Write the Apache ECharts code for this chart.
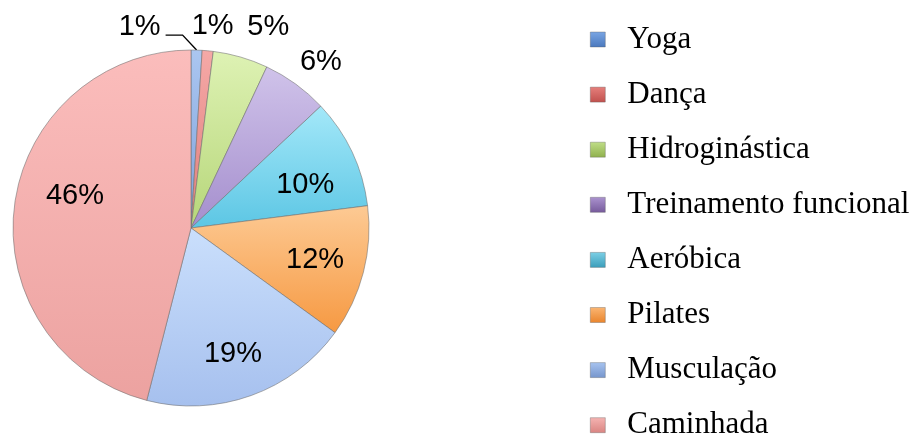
<!DOCTYPE html>
<html>
<head>
<meta charset="utf-8">
<script src="https://cdn.jsdelivr.net/npm/echarts@6/dist/echarts.min.js"></script>
<style>
    html, body {margin: 0; padding: 0; background: #fff;}
    #chart {width: 920px; height: 434px;}
</style>
</head>
<body>
<div id="chart"></div>
<script>
// dados do gráfico
var categories = ['Yoga', 'Dança', 'Hidroginástica', 'Treinamento funcional', 'Aeróbica', 'Pilates', 'Musculação', 'Caminhada'];
var values = [1, 1, 5, 6, 10, 12, 19, 46];

// onde fica o rótulo de cada fatia
var labelMode = ['leader', 'outside', 'outside', 'outside', 'inside', 'inside', 'inside', 'inside'];
// pequenos ajustes dos rótulos (dx, dy), como no Excel
var labelNudge = [[0, 0], [2, 6], [19, 0], [7, 3], [2, 10], [4, 1], [0, 9], [7, -16]];

// cores: [claro, escuro] das fatias e cor do quadradinho da legenda
var sliceColors = [
    ['#abc6f0', '#7ea2db'],
    ['#f5a9a7', '#e07e7b'],
    ['#def2b4', '#b6d679'],
    ['#d0c3ea', '#a48ecd'],
    ['#a4e8f9', '#5cc6e4'],
    ['#fdca94', '#f69942'],
    ['#cadffc', '#a6c0ee'],
    ['#fbbdbc', '#eca2a0']
];
var legendColors = [
    ['#7aa6e4', '#4a78bd'],
    ['#e6807c', '#c0504d'],
    ['#c0de88', '#8fb04c'],
    ['#ab93cf', '#765a9b'],
    ['#7dd0e6', '#3a9dba'],
    ['#fbb673', '#e9842c'],
    ['#a8c4f0', '#7595cc'],
    ['#f5b4b2', '#d98481']
];

var center = [191, 228];
var R = 178;

function grad(c) {
    return new echarts.graphic.LinearGradient(0, 0, 0, 1, [
        {offset: 0, color: c[0]},
        {offset: 1, color: c[1]}
    ]);
}

var labelFont = {fontFamily: 'Liberation Sans', fontSize: 29, color: '#000'};

var mainData = [], innerData = [], outerData = [], legendData = [];
for (var i = 0; i < categories.length; i++) {
    mainData.push({
        name: categories[i],
        value: values[i],
        itemStyle: {color: grad(sliceColors[i])},
        label: {show: labelMode[i] == 'leader'},
        labelLine: {show: labelMode[i] == 'leader'}
    });
    innerData.push({name: categories[i], value: values[i], label: {show: labelMode[i] == 'inside'}});
    outerData.push({name: categories[i], value: values[i], label: {show: labelMode[i] == 'outside'}});
    legendData.push({name: categories[i], itemStyle: {color: grad(legendColors[i]), borderColor: 'rgba(90,90,90,0.6)', borderWidth: 0.6}});
}

function nudge(p) {
    var n = labelNudge[p.dataIndex];
    return {dx: n[0], dy: n[1]};
}

var chart = echarts.init(document.getElementById('chart'));
var option = {
    animation: false,
    legend: {
        orient: 'vertical',
        left: 585,
        top: 19,
        height: 430,
        itemWidth: 15,
        itemHeight: 15,
        itemGap: 24.1,
        icon: 'rect',
        selectedMode: false,
        textStyle: {
            fontFamily: 'Liberation Serif',
            fontSize: 31,
            color: '#000',
            padding: [0, 0, 0, 17]
        },
        data: legendData
    },
    series: [
        {
            name: 'principal',
            type: 'pie',
            center: center,
            radius: R,
            startAngle: 90,
            avoidLabelOverlap: false,
            itemStyle: {borderColor: 'rgba(110,110,110,0.7)', borderWidth: 0.8},
            label: Object.assign({position: 'outside', formatter: '{c}%', alignTo: 'none'}, labelFont),
            labelLine: {length: 12, length2: 16, lineStyle: {color: '#000', width: 1.4}},
            labelLayout: function (p) {
                if (p.dataIndex === 0) {
                    // rótulo do Yoga puxado para a esquerda, com linha de chamada
                    var a = p.labelLinePoints[0];
                    return {
                        x: a[0] - 36,
                        y: a[1] - 23,
                        align: 'right',
                        verticalAlign: 'middle',
                        labelLinePoints: [a, [a[0] - 14, a[1] - 15], [a[0] - 31, a[1] - 15]]
                    };
                }
            },
            emphasis: {disabled: true},
            data: mainData
        },
        {
            name: 'rotulos-internos',
            type: 'pie',
            center: center,
            radius: [64, R],
            startAngle: 90,
            silent: true,
            itemStyle: {color: 'transparent'},
            label: Object.assign({position: 'inside', formatter: '{c}%'}, labelFont),
            labelLine: {show: false},
            labelLayout: nudge,
            emphasis: {disabled: true},
            data: innerData
        },
        {
            name: 'rotulos-externos',
            type: 'pie',
            center: center,
            radius: [R, R + 56],
            startAngle: 90,
            silent: true,
            itemStyle: {color: 'transparent'},
            label: Object.assign({position: 'inside', formatter: '{c}%'}, labelFont),
            labelLine: {show: false},
            labelLayout: nudge,
            emphasis: {disabled: true},
            data: outerData
        }
    ]
};
chart.setOption(option);
</script>
</body>
</html>
